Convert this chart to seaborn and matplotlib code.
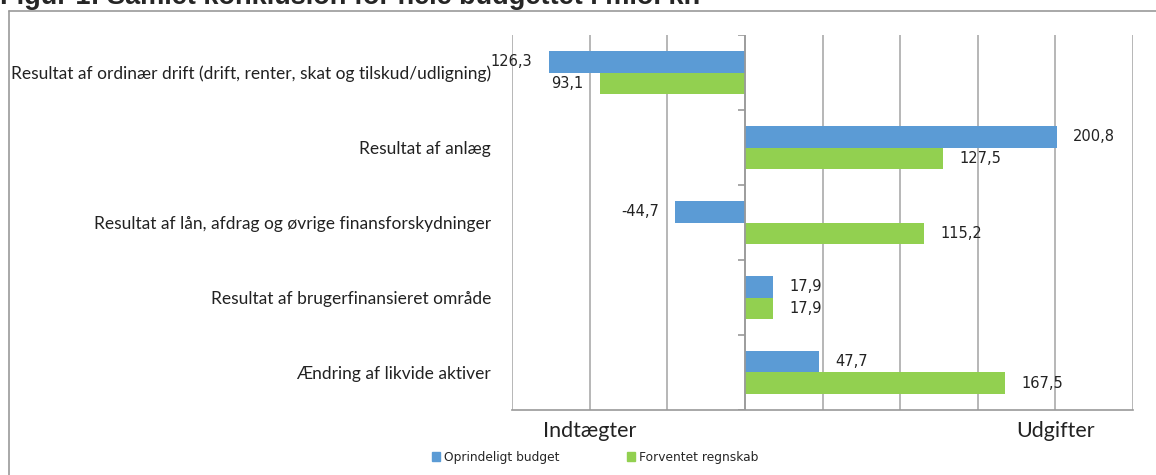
import matplotlib
matplotlib.use("Agg")
import matplotlib.pyplot as plt
import pandas as pd
import seaborn as sns

# data (mio. kr.)
kategorier = [
    "Resultat af ordinær drift (drift, renter, skat og tilskud/udligning)",
    "Resultat af anlæg",
    "Resultat af lån, afdrag og øvrige finansforskydninger",
    "Resultat af brugerfinansieret område",
    "Ændring af likvide aktiver",
]
serier = ["Oprindeligt budget", "Forventet regnskab"]
budget = [-126.3, 200.8, -44.7, 17.9, 47.7]
regnskab = [-93.1, 127.5, 115.2, 17.9, 167.5]
budget_labels = ["126,3", "200,8", "-44,7", "17,9", "47,7"]
regnskab_labels = ["93,1", "127,5", "115,2", "17,9", "167,5"]
farver = ["#5B9BD5", "#92D050"]
x_ticks = [-150, -100, -50, 0, 50, 100, 150, 200, 250]
x_ticklabels = ["", "Indtægter", "", "", "", "", "", "Udgifter", ""]

df = pd.DataFrame({
    "kategori": kategorier * 2,
    "serie": [serier[0]] * 5 + [serier[1]] * 5,
    "vaerdi": budget + regnskab,
})

sns.set_style("white")
plt.rcParams["font.family"] = ["Lato", "DejaVu Sans"]

fig = plt.figure(figsize=(11.56, 4.75), dpi=100)
ax = fig.add_axes([512 / 1156, 1 - 410 / 475, (1133 - 512) / 1156, (410 - 35) / 475])

sns.barplot(data=df, x="vaerdi", y="kategori", hue="serie", orient="h",
            palette=farver, width=0.58, saturation=1, linewidth=0,
            ax=ax, legend=False)

for cont, labs in zip(ax.containers, [budget_labels, regnskab_labels]):
    ax.bar_label(cont, labels=labs, padding=12, fontsize=10.5, color="#222222",
                 family=["DejaVu Sans"])

ax.set_xlim(-150, 250)
ax.set_ylim(4.5, -0.5)
ax.set_xticks(x_ticks)
ax.set_xticklabels(x_ticklabels, fontsize=15.5, color="#222222")
ax.tick_params(axis="x", length=5, width=1, color="#999999", direction="out", pad=3)
ax.tick_params(axis="y", length=0, pad=15, labelsize=12.5, labelcolor="#222222")
ax.set_xlabel("")
ax.set_ylabel("")
ax.grid(axis="x", color="#aaaaaa", linewidth=1.2)
ax.set_axisbelow(True)
for s in ["top", "right", "left"]:
    ax.spines[s].set_visible(False)
ax.spines["bottom"].set_color("#999999")
ax.spines["bottom"].set_linewidth(1.2)

# value axis at zero with short tick marks between the categories
ax.axvline(0, color="#999999", linewidth=1.2, zorder=3)
ax.hlines([k - 0.5 for k in range(6)], -4.5, 0, color="#999999", linewidth=1.2, zorder=3)

# legend below
handles = [plt.Rectangle((0, 0), 1, 1, color=c) for c in farver]
fig.legend(handles, serier, loc="center", bbox_to_anchor=(595 / 1156, 1 - 457 / 475),
           ncol=2, frameon=False, prop={"family": "DejaVu Sans", "size": 8.8},
           handlelength=0.7, handleheight=0.7, handletextpad=0.3, columnspacing=5.5)

# outer frame of the chart
fig.add_artist(plt.Line2D([9 / 1156, 9 / 1156], [0, 1 - 11 / 475], color="#999999", linewidth=1.2))
fig.add_artist(plt.Line2D([9 / 1156, 1], [1 - 11 / 475, 1 - 11 / 475], color="#999999", linewidth=1.2))

# caption, cut off at the top as in the source
fig.text(0.0, 1 - 4 / 475, "Figur 1: Samlet konklusion for hele budgettet i mio. kr.",
         fontsize=19.5, fontweight="bold", family=["Liberation Sans", "DejaVu Sans"],
         ha="left", va="baseline")

fig.savefig("out.png", dpi=100)
